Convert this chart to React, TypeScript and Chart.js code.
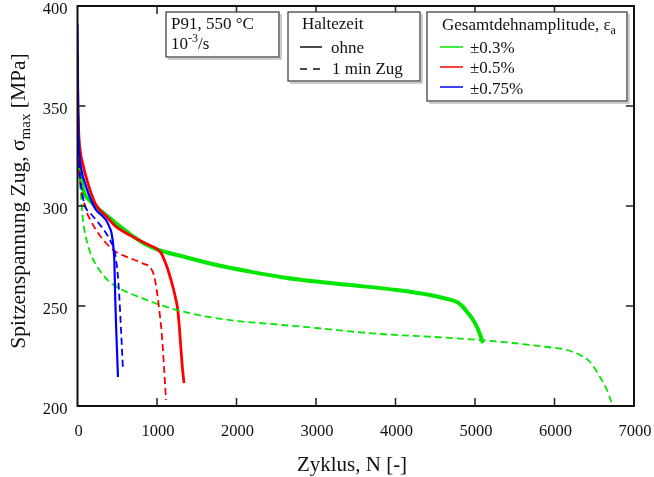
import React, { useEffect, useRef } from "react";
import { Chart, registerables } from "chart.js";

Chart.register(...registerables);

// ---- data (N cycles, peak tensile stress MPa) ----
const xTickValues = [0, 1000, 2000, 3000, 4000, 5000, 6000, 7000];
const yTickValues = [200, 250, 300, 350, 400];

// ±0.3 %, ohne Haltezeit
const n03Ohne = [0, 8, 20, 45, 90, 160, 250, 358, 480, 610, 736, 862, 1000, 1331, 1751, 2170, 2589, 3009, 3428, 4015, 4434, 4650, 4774, 4850, 4900, 4960, 5025, 5070, 5100];
const s03Ohne = [345, 333, 322, 313, 306, 302.5, 299, 295.5, 291.5, 287.5, 283.8, 280.7, 278.3, 274.7, 270.5, 267.2, 264.3, 262.2, 260.5, 258, 255.5, 253.5, 252, 249.5, 247, 244, 239.5, 235, 231.5];

// ±0.5 %, ohne Haltezeit
const n05Ohne = [0, 5, 15, 40, 70, 107, 170, 233, 358, 484, 610, 736, 860, 987, 1050, 1092, 1130, 1176, 1210, 1239, 1260, 1280, 1302, 1322, 1340];
const s05Ohne = [376, 352, 337, 326, 320.5, 314.7, 306.5, 300.5, 295, 289.7, 286.5, 283.8, 281.2, 278.8, 276.5, 273, 269, 263, 258, 253, 248.5, 240, 228, 218, 211.5];

// ±0.75 %, ohne Haltezeit
const n075Ohne = [0, 5, 12, 23, 50, 107, 170, 233, 300, 358, 400, 425, 442, 455, 463, 470, 475, 490, 509];
const s075Ohne = [391, 360, 338, 326.5, 318, 309.7, 303, 298, 295.5, 293, 289.7, 287, 283, 278, 273, 262, 253, 235, 214.5];

// ±0.3 %, 1 min Zug
const n03Zug = [0, 5, 12, 23, 44, 55, 70, 100, 149, 200, 275, 400, 610, 820, 1038, 1457, 2000, 2296, 3000, 3805, 4500, 5063, 5478, 5906, 6157, 6321, 6447, 6572, 6660, 6714, 6730];
const s03Zug = [345, 330, 322, 315, 305, 299, 292.5, 285.5, 278, 273, 268, 262.2, 257.2, 253.8, 250.5, 246, 242.5, 241.5, 239, 236, 234.5, 233, 231.5, 229.5, 228, 225.5, 222, 214.5, 208, 202, 200];

// ±0.5 %, 1 min Zug
const n05Zug = [0, 5, 15, 44, 107, 170, 233, 358, 484, 610, 820, 925, 966, 996, 1017, 1040, 1059, 1075, 1088, 1100, 1113];
const s05Zug = [362, 340, 322, 309.7, 298, 292.5, 288, 281.5, 277, 274.7, 271.3, 268.8, 264.7, 258, 252, 244, 236.5, 228, 219.5, 212, 203];

// ±0.75 %, 1 min Zug
const n075Zug = [0, 5, 15, 40, 70, 107, 170, 233, 358, 421, 463, 485, 505, 526, 545, 560, 572];
const s075Zug = [372, 345, 327, 312, 304, 299, 296, 293, 286.5, 282, 278, 273, 266.5, 254.7, 240, 228, 218];

const GREEN = "#00e600";
const RED = "#ff0000";
const BLUE = "#0000ff";
const FONT = "'Liberation Serif', 'Times New Roman', serif";

const pts = (xs: number[], ys: number[]) => xs.map((x, i) => ({ x, y: ys[i] }));

type Part = { t: string; size: number; dy: number };
function drawRich(ctx: CanvasRenderingContext2D, parts: Part[], x: number, y: number) {
  let cx = x;
  for (const p of parts) {
    ctx.font = `${p.size}px ${FONT}`;
    ctx.fillText(p.t, cx, y + p.dy);
    cx += ctx.measureText(p.t).width;
  }
  return cx - x;
}
function richWidth(ctx: CanvasRenderingContext2D, parts: Part[]) {
  let w = 0;
  for (const p of parts) {
    ctx.font = `${p.size}px ${FONT}`;
    w += ctx.measureText(p.t).width;
  }
  return w;
}

const decoPlugin = {
  id: "deco",
  afterDraw(chart: any) {
    const ctx: CanvasRenderingContext2D = chart.ctx;
    const a = chart.chartArea;
    const xs = chart.scales.x;
    const ys = chart.scales.y;
    ctx.save();
    // inward ticks
    ctx.strokeStyle = "#222";
    ctx.lineWidth = 1.5;
    const tl = 8;
    ctx.beginPath();
    for (const v of xTickValues) {
      if (v === 0 || v === 7000) continue;
      const px = xs.getPixelForValue(v);
      ctx.moveTo(px, a.bottom); ctx.lineTo(px, a.bottom - tl);
      ctx.moveTo(px, a.top); ctx.lineTo(px, a.top + tl);
    }
    for (const v of yTickValues) {
      if (v === 200 || v === 400) continue;
      const py = ys.getPixelForValue(v);
      ctx.moveTo(a.left, py); ctx.lineTo(a.left + tl, py);
      ctx.moveTo(a.right, py); ctx.lineTo(a.right - tl, py);
    }
    ctx.stroke();
    // frame
    ctx.lineWidth = 2;
    ctx.strokeStyle = "#111";
    ctx.strokeRect(a.left, a.top, a.right - a.left, a.bottom - a.top);

    ctx.fillStyle = "#111";
    // tick labels
    ctx.font = `16.5px ${FONT}`;
    ctx.textBaseline = "middle";
    ctx.textAlign = "right";
    for (const v of yTickValues) {
      ctx.fillText(String(v), a.left - 10, ys.getPixelForValue(v) + 4);
    }
    ctx.textAlign = "center";
    for (const v of xTickValues) {
      ctx.fillText(String(v), xs.getPixelForValue(v) + 1, a.bottom + 26);
    }

    ctx.textBaseline = "alphabetic";
    ctx.textAlign = "left";
    // x title
    ctx.font = `21px ${FONT}`;
    const xt = "Zyklus, N [-]";
    const xw = ctx.measureText(xt).width;
    ctx.fillText(xt, 352 - xw / 2, 471);
    // y title
    const yParts: Part[] = [
      { t: "Spitzenspannung Zug, σ", size: 21.5, dy: 0 },
      { t: "max", size: 15, dy: 5 },
      { t: " [MPa]", size: 21.5, dy: 0 },
    ];
    const yw = richWidth(ctx, yParts);
    ctx.save();
    ctx.translate(25, 201);
    ctx.rotate(-Math.PI / 2);
    drawRich(ctx, yParts, -yw / 2, 0);
    ctx.restore();

    // legend boxes
    const box = (x0: number, y0: number, x1: number, y1: number) => {
      ctx.strokeStyle = "#999";
      ctx.lineWidth = 1;
      ctx.beginPath();
      ctx.moveTo(x1 + 2, y0 + 2); ctx.lineTo(x1 + 2, y1 + 2); ctx.lineTo(x0 + 2, y1 + 2);
      ctx.stroke();
      ctx.fillStyle = "#fff";
      ctx.fillRect(x0, y0, x1 - x0, y1 - y0);
      ctx.strokeStyle = "#333";
      ctx.lineWidth = 1.2;
      ctx.strokeRect(x0, y0, x1 - x0, y1 - y0);
      ctx.fillStyle = "#111";
    };
    box(166, 12, 279, 57);
    drawRich(ctx, [{ t: "P91, 550 °C", size: 17, dy: 0 }], 171, 29);
    drawRich(ctx, [
      { t: "10", size: 17, dy: 0 },
      { t: "-3", size: 12, dy: -7 },
      { t: "/s", size: 17, dy: 0 },
    ], 171, 49);

    box(288, 12, 420, 81);
    drawRich(ctx, [{ t: "Haltezeit", size: 17, dy: 0 }], 302, 29);
    ctx.strokeStyle = "#111";
    ctx.lineWidth = 1.5;
    ctx.beginPath();
    ctx.moveTo(300, 47); ctx.lineTo(322, 47);
    ctx.moveTo(300, 69); ctx.lineTo(307, 69);
    ctx.moveTo(313, 69); ctx.lineTo(320, 69);
    ctx.stroke();
    drawRich(ctx, [{ t: "ohne", size: 17, dy: 0 }], 331, 53);
    drawRich(ctx, [{ t: "1 min Zug", size: 17, dy: 0 }], 332, 74);

    box(427, 12, 627, 101);
    drawRich(ctx, [
      { t: "Gesamtdehnamplitude, ε", size: 17, dy: 0 },
      { t: "a", size: 12, dy: 4 },
    ], 442, 30);
    const items = [
      { c: GREEN, t: "±0.3%", ly: 47, ty: 53 },
      { c: RED, t: "±0.5%", ly: 67, ty: 73 },
      { c: BLUE, t: "±0.75%", ly: 87, ty: 94 },
    ];
    for (const it of items) {
      ctx.strokeStyle = it.c;
      ctx.lineWidth = 1.5;
      ctx.beginPath();
      ctx.moveTo(440, it.ly); ctx.lineTo(463, it.ly);
      ctx.stroke();
      drawRich(ctx, [{ t: it.t, size: 17, dy: 0 }], 470, it.ty);
    }
    ctx.restore();
  },
};

export default function App() {
  const ref = useRef<HTMLCanvasElement | null>(null);
  useEffect(() => {
    if (!ref.current) return;
    const mk = (label: string, xs: number[], ys: number[], color: string, dashed: boolean, w: number) => ({
      label,
      data: pts(xs, ys),
      borderColor: color,
      backgroundColor: color,
      borderWidth: w,
      borderDash: dashed ? [7, 4] : [],
      showLine: true,
      pointRadius: 0,
      fill: false,
      cubicInterpolationMode: "monotone" as const,
    });
    const chart = new Chart(ref.current, {
      type: "scatter",
      data: {
        datasets: [
          mk("±0.75% ohne", n075Ohne, s075Ohne, BLUE, false, 2.2),
          mk("±0.75% 1 min Zug", n075Zug, s075Zug, BLUE, true, 1.8),
          mk("±0.5% 1 min Zug", n05Zug, s05Zug, RED, true, 1.8),
          mk("±0.3% 1 min Zug", n03Zug, s03Zug, GREEN, true, 1.8),
          mk("±0.5% ohne", n05Ohne, s05Ohne, RED, false, 2.8),
          mk("±0.3% ohne", n03Ohne, s03Ohne, GREEN, false, 4),
        ],
      },
      options: {
        responsive: false,
        animation: false,
        devicePixelRatio: 1,
        layout: { padding: { left: 0, right: 20, top: 6, bottom: 0 } },
        plugins: { legend: { display: false }, tooltip: { enabled: false } },
        scales: {
          x: {
            type: "linear",
            min: 0,
            max: 7000,
            afterFit: (s: any) => { s.height = 71; },
            grid: { display: false, drawTicks: false },
            border: { display: false },
            ticks: { display: false },
          },
          y: {
            type: "linear",
            min: 200,
            max: 400,
            afterFit: (s: any) => { s.width = 77.5; },
            grid: { display: false, drawTicks: false },
            border: { display: false },
            ticks: { display: false },
          },
        },
      },
      plugins: [decoPlugin],
    });
    return () => chart.destroy();
  }, []);
  return (
    <div style={{ position: "absolute", left: 0, top: 0, width: 654, height: 477, background: "#fff" }}>
      <canvas ref={ref} width={654} height={477} style={{ display: "block", width: 654, height: 477 }} />
    </div>
  );
}
